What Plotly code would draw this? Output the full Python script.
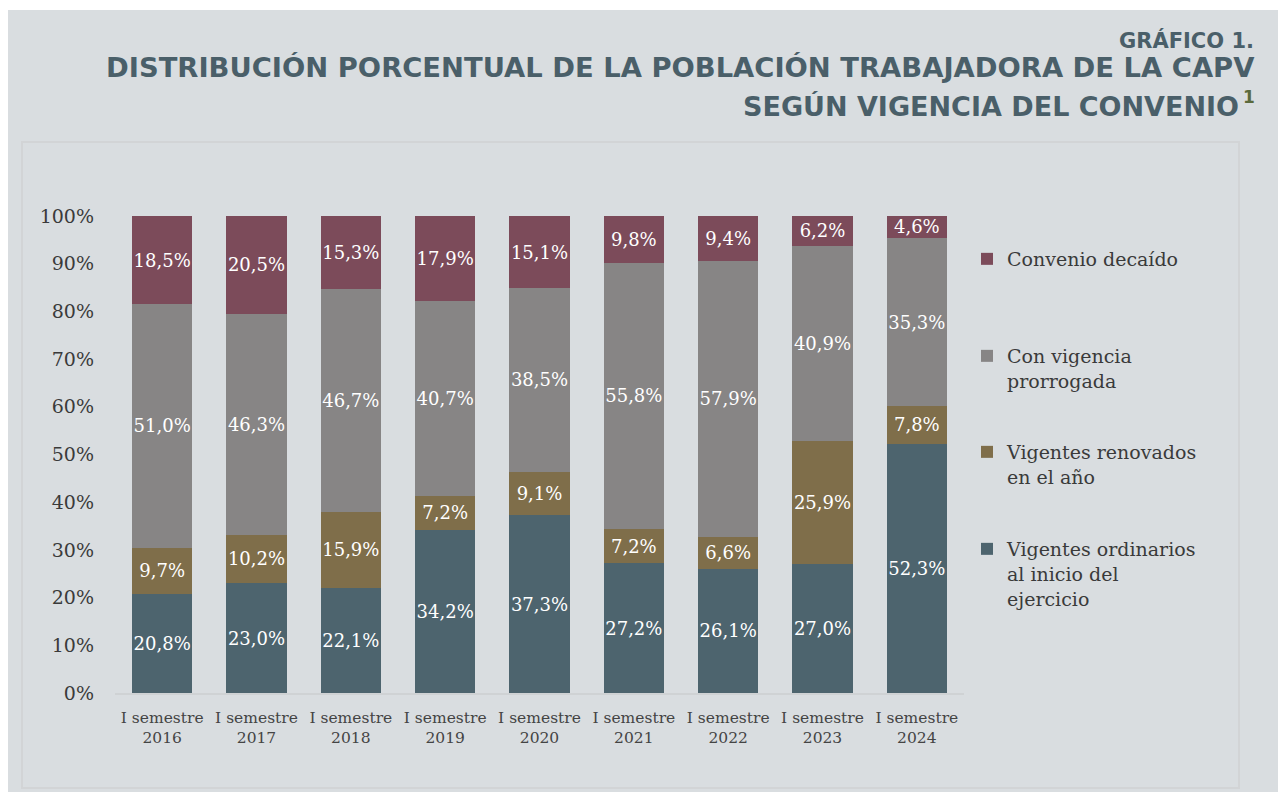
import plotly.graph_objects as go

# Datos (porcentaje de población trabajadora, I semestre de cada año)
periodos = ["I semestre<br>2016", "I semestre<br>2017", "I semestre<br>2018",
            "I semestre<br>2019", "I semestre<br>2020", "I semestre<br>2021",
            "I semestre<br>2022", "I semestre<br>2023", "I semestre<br>2024"]
ordinarios = [20.8, 23.0, 22.1, 34.2, 37.3, 27.2, 26.1, 27.0, 52.3]
renovados = [9.7, 10.2, 15.9, 7.2, 9.1, 7.2, 6.6, 25.9, 7.8]
prorrogada = [51.0, 46.3, 46.7, 40.7, 38.5, 55.8, 57.9, 40.9, 35.3]
decaido = [18.5, 20.5, 15.3, 17.9, 15.1, 9.8, 9.4, 6.2, 4.6]

W, H = 1278, 794
L, R, T, B = 115, 314, 216, 101
PW, PH = W - L - R, H - T - B
SERIF = "DejaVu Serif"
BG = "#d9dde0"
TITLE = "#4a5f69"


def px(x):
    return (x - L) / PW


def py(y):
    return (H - B - y) / PH


def fmt(v):
    return f"{v:.1f}".replace(".", ",") + "%"


# (nombre, valores, color, leyenda, borde superior de la leyenda en px)
series = [
    ("Vigentes ordinarios<br>al inicio del<br>ejercicio", ordinarios, "#4d646e", "legend4", 530),
    ("Vigentes renovados<br>en el año", renovados, "#7f6e4a", "legend3", 433),
    ("Con vigencia<br>prorrogada", prorrogada, "#878585", "legend2", 337),
    ("Convenio decaído", decaido, "#7c4b5a", "legend", 240),
]

fig = go.Figure()
for name, vals, color, leg, _ in series:
    fig.add_trace(go.Bar(
        x=periodos, y=vals, name=name, legend=leg,
        marker=dict(color=color, line=dict(width=0)),
        text=[fmt(v) for v in vals], textposition="inside",
        insidetextanchor="middle", textangle=0,
        textfont=dict(family=SERIF, size=18, color="white"),
    ))

legends = {}
for name, vals, color, leg, top in series:
    legends[leg] = dict(
        x=px(967), y=py(top), xanchor="left", yanchor="top",
        bgcolor="rgba(0,0,0,0)", valign="top", itemwidth=30,
        font=dict(family=SERIF, size=19, color="#3a3a3a"),
    )

fig.update_layout(
    width=W, height=H, barmode="stack", bargap=0.36, showlegend=True,
    margin=dict(l=L, r=R, t=T, b=B, autoexpand=False),
    paper_bgcolor="white", plot_bgcolor=BG,
    uniformtext=dict(minsize=18, mode="show"),
    **legends,
)
fig.update_xaxes(
    range=[-0.5, 8.5], showgrid=False, showline=True, linecolor="#cfd2d4",
    linewidth=2, tickfont=dict(family=SERIF, size=15.5, color="#444"),
    ticks="", ticklabelstandoff=9,
)
fig.update_yaxes(
    range=[0, 100], tickvals=list(range(0, 101, 10)),
    ticktext=[f"{v}%" for v in range(0, 101, 10)], showgrid=False,
    zeroline=False, tickfont=dict(family=SERIF, size=19, color="#3a3a3a"),
    ticks="", ticklabelstandoff=20,
)

# tarjeta de fondo y panel interior
fig.add_shape(type="rect", xref="paper", yref="paper", layer="below",
              x0=px(8), x1=px(1290), y0=py(792), y1=py(10),
              fillcolor=BG, line=dict(width=0))
fig.add_shape(type="rect", xref="paper", yref="paper", layer="below",
              x0=px(22), x1=px(1239), y0=py(788), y1=py(142),
              fillcolor=BG, line=dict(color="#d2d4d6", width=2))

# títulos
fig.add_annotation(xref="paper", yref="paper", x=px(1256), y=py(40),
                   xanchor="right", yanchor="middle", showarrow=False,
                   text="<b>GRÁFICO 1.</b>",
                   font=dict(family="DejaVu Sans", size=21, color=TITLE))
fig.add_annotation(xref="paper", yref="paper", x=px(1257), y=py(67),
                   xanchor="right", yanchor="middle", showarrow=False,
                   text="<b>DISTRIBUCIÓN PORCENTUAL DE LA POBLACIÓN TRABAJADORA DE LA CAPV</b>",
                   font=dict(family="DejaVu Sans", size=27.4, color=TITLE))
fig.add_annotation(xref="paper", yref="paper", x=px(1241), y=py(107),
                   xanchor="right", yanchor="middle", showarrow=False,
                   text="<b>SEGÚN VIGENCIA DEL CONVENIO</b>",
                   font=dict(family="DejaVu Sans", size=27, color=TITLE))
fig.add_annotation(xref="paper", yref="paper", x=px(1241), y=py(97),
                   xanchor="left", yanchor="middle", showarrow=False,
                   text="<b>1</b>",
                   font=dict(family="DejaVu Sans", size=17, color="#5b6a3c"))

fig.write_html("out.html", config={"displayModeBar": False},
               post_script="document.body.style.margin='0';")
